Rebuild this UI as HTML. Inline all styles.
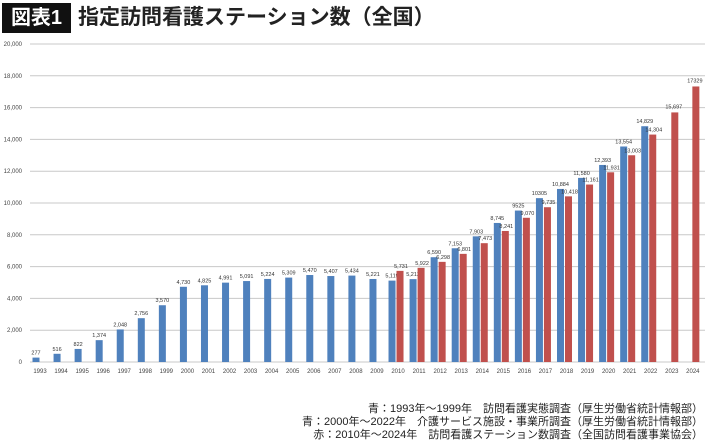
<!DOCTYPE html>
<html><head><meta charset="utf-8"><style>
body{margin:0;width:710px;height:439px;background:#fff;overflow:hidden;font-family:"Liberation Sans","Noto Sans CJK JP",sans-serif;position:relative}
.t{position:absolute}
</style></head><body>
<div class="t" style="left:2px;top:3px;width:69px;height:30px;background:#111;color:#fff;font-size:20px;font-weight:bold;line-height:30px;text-align:center">図表1</div>
<div class="t" style="left:78px;top:2px;font-size:21px;font-weight:bold;line-height:32px;color:#222">指定訪問看護ステーション数（全国）</div>
<svg class="t" style="left:0;top:0" width="710" height="439">
<g id="grid"></g><g id="bars"></g>
</svg>
<div class="t" style="right:7px;top:403px;font-size:11px;line-height:13px;text-align:right;color:#222">
青：1993年～1999年　訪問看護実態調査（厚生労働省統計情報部）<br>
青：2000年～2022年　介護サービス施設・事業所調査（厚生労働省統計情報部）<br>
赤：2010年～2024年　訪問看護ステーション数調査（全国訪問看護事業協会）</div>
<script>
const years=[1993,1994,1995,1996,1997,1998,1999,2000,2001,2002,2003,2004,2005,2006,2007,2008,2009,2010,2011,2012,2013,2014,2015,2016,2017,2018,2019,2020,2021,2022,2023,2024];
const blueValues=[277,516,822,1374,2048,2756,3570,4730,4825,4991,5091,5224,5309,5470,5407,5434,5221,5119,5212,6590,7153,7903,8745,9525,10305,10884,11580,12393,13554,14829,null,null];
const blueLabels=["277","516","822","1,374","2,048","2,756","3,570","4,730","4,825","4,991","5,091","5,224","5,309","5,470","5,407","5,434","5,221","5,119","5,212","6,590","7,153","7,903","8,745","9525","10305","10,884","11,580","12,393","13,554","14,829",null,null];
const redValues=[null,null,null,null,null,null,null,null,null,null,null,null,null,null,null,null,null,5731,5922,6298,6801,7473,8241,9070,9735,10418,11161,11931,13003,14304,15697,17329];
const redLabels=[null,null,null,null,null,null,null,null,null,null,null,null,null,null,null,null,null,"5,731","5,922","6,298","6,801","7,473","8,241","9,070","9,735","10,418","11,161","11,931","13,003","14,304","15,697","17329"];
const yTicks=[0,2000,4000,6000,8000,10000,12000,14000,16000,18000,20000];
const yTickLabels=["0","2,000","4,000","6,000","8,000","10,000","12,000","14,000","16,000","18,000","20,000"];
const NS="http://www.w3.org/2000/svg";
const y=v=>362-v*(318/20000);
const x=i=>40+i*21.06;
function mk(tag,attrs,parent,text){const e=document.createElementNS(NS,tag);for(const k in attrs)e.setAttribute(k,attrs[k]);if(text!=null)e.textContent=text;parent.appendChild(e);return e;}
const g=document.getElementById('grid'),b=document.getElementById('bars');
yTicks.forEach((v,i)=>{
 const l=mk('line',{x1:30,x2:705,y1:y(v),y2:y(v),stroke:'#c8c8c8','stroke-width':1},g);
 
 
 const t=mk('text',{x:22,y:y(v)+2,'font-size':6,'text-anchor':'end',fill:'#444'},g,yTickLabels[i]);
 
 
});
years.forEach((yr,i)=>{
 const c=x(i);
 const t=mk('text',{x:c,y:373,'font-size':6,'text-anchor':'middle',fill:'#444'},g,String(yr));
 
 
 const bv=blueValues[i],rv=redValues[i];
 const both=bv!=null&&rv!=null;
 if(bv!=null){
  const bx=both?c-6:c-4;
  const r=mk('rect',{x:bx-3.5,y:y(bv),width:7,height:362-y(bv),fill:'#4f81bd'},b);
  
  
  const lt=mk('text',{x:bx,y:y(bv)-3,'font-size':5.5,'text-anchor':'middle',fill:'#333'},b,blueLabels[i]);
  
  
 }
 if(rv!=null){
  const rx=both?c+2:c+3;
  const r=mk('rect',{x:rx-3.5,y:y(rv),width:7,height:362-y(rv),fill:'#c0504d'},b);
  
  
  const lt=mk('text',{x:both?rx+1:rx-1,y:y(rv)-(both?3:4),'font-size':5.5,'text-anchor':'middle',fill:'#333'},b,redLabels[i]);
  
  
 }
});
</script>
</body></html>
